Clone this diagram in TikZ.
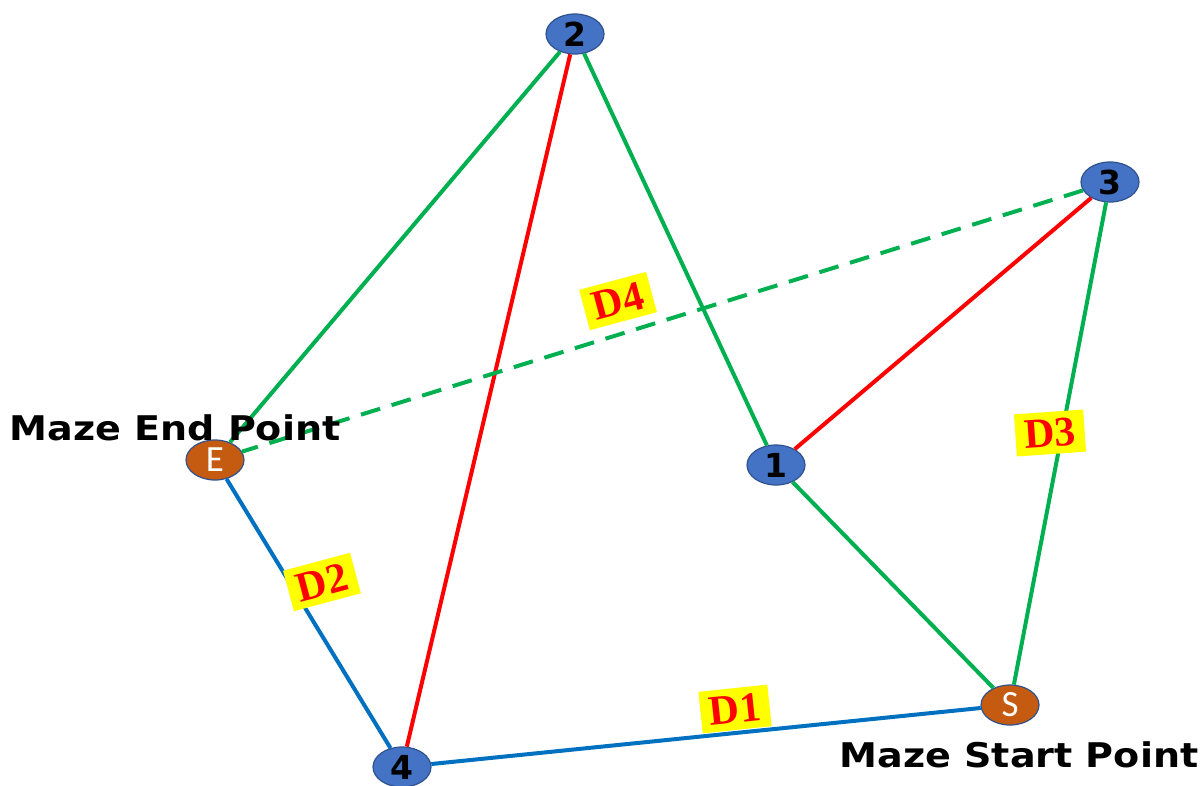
\documentclass[tikz,border=0pt]{standalone}
\usepackage{fontspec}
\usetikzlibrary{shapes.geometric}
\newfontfamily\capfont{DejaVu Sans}
\newfontfamily\numfont{DejaVu Sans}
\newfontfamily\dfont{Liberation Serif}
\newfontfamily\sefont{Carlito}
\definecolor{nodeblue}{HTML}{4472C4}
\definecolor{nodeblueb}{HTML}{2F528F}
\definecolor{nodeorange}{HTML}{C55A11}
\definecolor{nodeorangeb}{HTML}{2F528F}
\definecolor{egreen}{HTML}{00B050}
\definecolor{ered}{HTML}{FF0000}
\definecolor{eblue}{HTML}{0070C0}
\definecolor{lblyellow}{HTML}{FFFF00}
\begin{document}
\begin{tikzpicture}[x=1pt,y=-1pt,
  numnode/.style={ellipse,draw=nodeblueb,line width=1.2pt,fill=nodeblue,minimum width=58pt,minimum height=40pt,inner sep=0pt,font=\numfont\bfseries\fontsize{33}{33}\selectfont,text=black},
  endpt/.style={ellipse,draw=nodeorangeb,line width=1.2pt,fill=nodeorange,minimum width=58pt,minimum height=40pt,inner sep=0pt,font=\sefont\fontsize{37}{37}\selectfont,text=white},
  conn/.style={line width=4pt},
  dlbl/.style={fill=lblyellow,text=ered,font=\dfont\bfseries\fontsize{42}{42}\selectfont,inner xsep=9pt,inner ysep=7pt},
  captext/.style={font=\capfont\bfseries\fontsize{34}{34}\selectfont,text=black,inner sep=0pt}
]
\useasboundingbox (0,0) rectangle (1200,785);
\clip (0,0) rectangle (1200,785);
% nodes
\node[numnode] (n2) at (575,34) {2};
\node[numnode] (n3) at (1110,182) {3};
\node[numnode] (n1) at (776,465) {1};
\node[numnode] (n4) at (402,767) {4};
\node[endpt] (E) at (215,460) {E};
\node[endpt] (S) at (1010,705) {S};
% connectors
\begin{scope}[line cap=butt]
\draw[conn,egreen] (n2) -- (E);
\draw[conn,ered] (n2) -- (n4);
\draw[conn,egreen] (n2) -- (n1);
\draw[conn,egreen,dash pattern=on 20pt off 12pt] (n3) -- (E);
\draw[conn,ered] (n3) -- (n1);
\draw[conn,egreen] (n3) -- (S);
\draw[conn,egreen] (n1) -- (S);
\draw[conn,eblue] (E) -- (n4);
\draw[conn,eblue] (n4) -- (S);
\end{scope}
% labels
\node[dlbl,rotate=15] (d4) at (618,301) {D4};
\node[dlbl,rotate=15] (d2) at (322,582) {D2};
\node[dlbl,rotate=4] (d3) at (1050,433) {D3};
\node[dlbl,rotate=6] (d1) at (735,709) {D1};
\node[captext] (capE) at (175,428) {\scalebox{1.12}[1]{Maze End Point}};
\node[captext] (capS) at (1019,755) {\scalebox{1.12}[1]{Maze Start Point}};
\end{tikzpicture}
\end{document}
